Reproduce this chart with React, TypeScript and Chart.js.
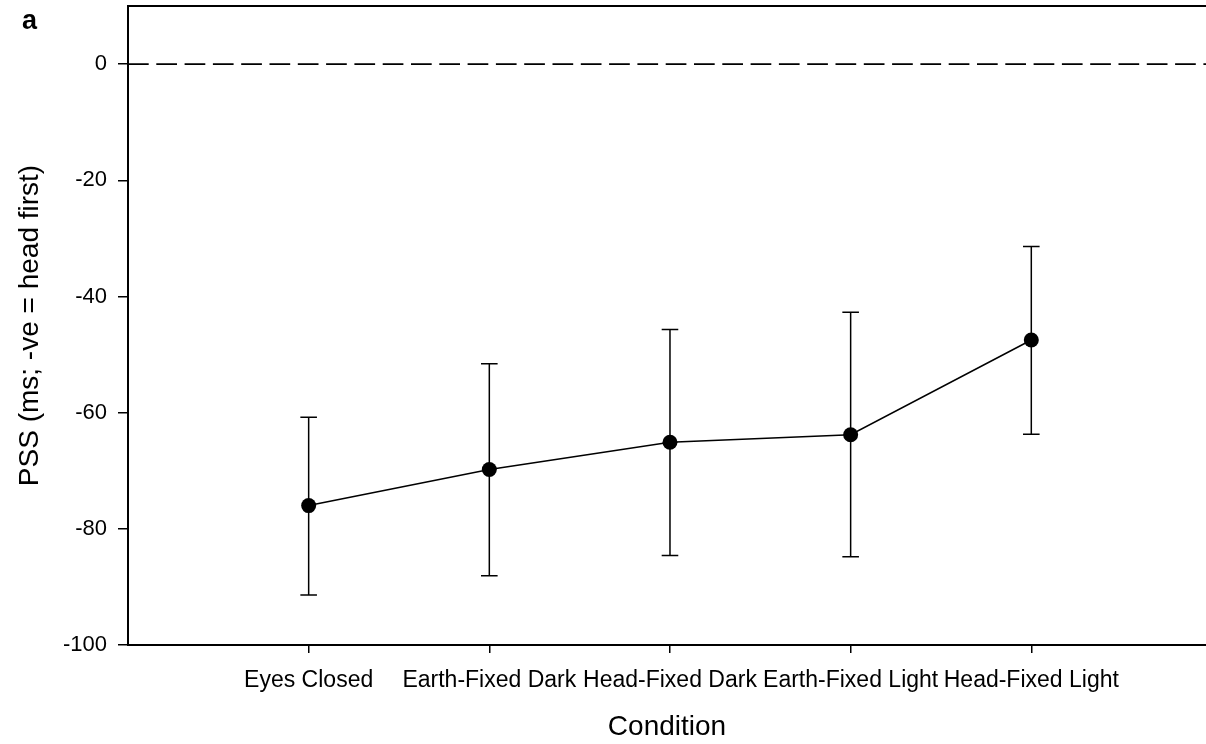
import React, { useEffect, useRef } from "react";
import { Chart, registerables } from "chart.js";

Chart.register(...registerables);

const categories = [
  "Eyes Closed",
  "Earth-Fixed Dark",
  "Head-Fixed Dark",
  "Earth-Fixed Light",
  "Head-Fixed Light",
];
const means = [-76.0, -69.8, -65.1, -63.8, -47.5];
const upper = [-60.8, -51.6, -45.7, -42.7, -31.4];
const lower = [-91.4, -88.1, -84.6, -84.8, -63.7];
const yTicks = [-100, -80, -60, -40, -20, 0];
const xTickPositions = [1, 2, 3, 4, 5];

const FONT = "'Liberation Sans', Arial, sans-serif";

const overlayPlugin = {
  id: "overlay",
  beforeDatasetsDraw(chart: any) {
    const { ctx, chartArea, scales } = chart;
    const xs = scales.x;
    const ys = scales.y;
    ctx.save();
    // top frame line
    ctx.strokeStyle = "#000";
    ctx.lineWidth = 2;
    ctx.beginPath();
    ctx.moveTo(chartArea.left, chartArea.top);
    ctx.lineTo(chartArea.right, chartArea.top);
    ctx.stroke();
    // zero dashed line
    const y0 = ys.getPixelForValue(0);
    ctx.lineWidth = 1.7;
    ctx.setLineDash([20.7, 7.6]);
    ctx.beginPath();
    ctx.moveTo(chartArea.left, y0);
    ctx.lineTo(chartArea.right, y0);
    ctx.stroke();
    ctx.setLineDash([]);
    // error bars
    ctx.lineWidth = 1.5;
    for (let i = 0; i < means.length; i++) {
      const x = xs.getPixelForValue(xTickPositions[i]);
      const yt = ys.getPixelForValue(upper[i]);
      const yb = ys.getPixelForValue(lower[i]);
      ctx.beginPath();
      ctx.moveTo(x, yt);
      ctx.lineTo(x, yb);
      ctx.moveTo(x - 8.3, yt);
      ctx.lineTo(x + 8.3, yt);
      ctx.moveTo(x - 8.3, yb);
      ctx.lineTo(x + 8.3, yb);
      ctx.stroke();
    }
    ctx.restore();
  },
  afterDraw(chart: any) {
    const { ctx } = chart;
    ctx.save();
    ctx.fillStyle = "#000";
    ctx.font = `bold 27px ${FONT}`;
    ctx.textAlign = "left";
    ctx.textBaseline = "alphabetic";
    ctx.fillText("a", 22, 29);
    ctx.restore();
  },
};

const zeroPadding = (scale: any) => {
  scale.paddingTop = 0;
  scale.paddingBottom = 0;
  scale.paddingLeft = 0;
  scale.paddingRight = 0;
};

export default function App() {
  const ref = useRef<HTMLCanvasElement | null>(null);

  useEffect(() => {
    if (!ref.current) return;
    const chart = new Chart(ref.current, {
      type: "line",
      data: {
        datasets: [
          {
            data: means.map((m, i) => ({ x: xTickPositions[i], y: m })),
            borderColor: "#000",
            borderWidth: 1.5,
            pointRadius: 7.5,
            pointBackgroundColor: "#000",
            pointBorderColor: "#000",
            pointBorderWidth: 0,
            tension: 0,
            fill: false,
          },
        ],
      },
      options: {
        responsive: false,
        animation: false,
        devicePixelRatio: 1,
        layout: { autoPadding: false, padding: { top: 6, right: 0, left: 0, bottom: 0 } },
        plugins: {
          legend: { display: false },
          tooltip: { enabled: false },
        },
        scales: {
          x: {
            type: "linear",
            min: 0,
            max: 5.967,
            afterBuildTicks: (scale: any) => {
              scale.ticks = xTickPositions.map((v) => ({ value: v }));
            },
            afterFit: (scale: any) => {
              scale.height = 99;
              zeroPadding(scale);
            },
            ticks: {
              autoSkip: false,
              maxRotation: 0,
              minRotation: 0,
              padding: 14,
              color: "#000",
              font: { family: FONT, size: 23 },
              callback: (v: any) => categories[Number(v) - 1] ?? "",
            },
            grid: {
              display: true,
              drawOnChartArea: false,
              drawTicks: true,
              tickLength: 8,
              color: "#000",
              lineWidth: 1.5,
            },
            border: { display: true, color: "#000", width: 2 },
            title: {
              display: true,
              text: "Condition",
              color: "#000",
              font: { family: FONT, size: 28 },
              padding: { top: 0, bottom: 0 },
            },
          },
          y: {
            type: "linear",
            min: -100,
            max: 10,
            afterBuildTicks: (scale: any) => {
              scale.ticks = yTicks.map((v) => ({ value: v }));
            },
            afterFit: (scale: any) => {
              scale.width = 128;
              zeroPadding(scale);
            },
            ticks: {
              padding: 11,
              color: "#000",
              font: { family: FONT, size: 22 },
              callback: (v: any) => String(v),
            },
            grid: {
              display: true,
              drawOnChartArea: false,
              drawTicks: true,
              tickLength: 10,
              color: "#000",
              lineWidth: 1.5,
            },
            border: { display: true, color: "#000", width: 2 },
            title: {
              display: true,
              text: "PSS (ms; -ve = head first)",
              color: "#000",
              font: { family: FONT, size: 28 },
              padding: { top: 13, bottom: 0 },
            },
          },
        },
      },
      plugins: [overlayPlugin],
    });
    return () => chart.destroy();
  }, []);

  return (
    <div style={{ position: "absolute", left: 0, top: 0, width: 1206, height: 744, background: "#fff" }}>
      <canvas ref={ref} width={1206} height={744} style={{ display: "block" }} />
    </div>
  );
}
